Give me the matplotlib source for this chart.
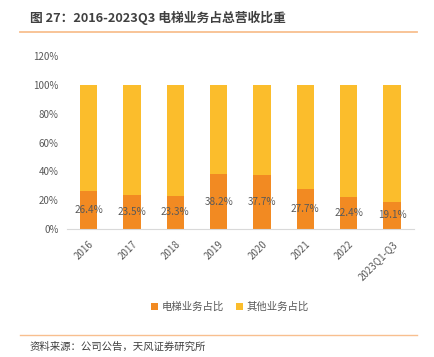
import matplotlib
matplotlib.use("Agg")
import matplotlib.pyplot as plt
from matplotlib.lines import Line2D
import numpy as np

plt.rcParams['font.family'] = ['Noto Sans CJK SC', 'DejaVu Sans']

categories = ["2016", "2017", "2018", "2019", "2020", "2021", "2022", "2023Q1-Q3"]
elevator = [26.4, 23.5, 23.3, 38.2, 37.7, 27.7, 22.4, 19.1]
other = [100 - v for v in elevator]
yticks = [0, 20, 40, 60, 80, 100, 120]

c_elev = "#F28A22"
c_other = "#FBBD2C"
txt = "#595959"

fig = plt.figure(figsize=(4.35, 3.57), dpi=100)
ax = fig.add_axes([67/435, 1 - 229.3/357, (413.7 - 67)/435, (229.3 - 55.8)/357])

x = np.arange(len(categories))
ax.bar(x, elevator, width=0.4, color=c_elev, label="电梯业务占比")
ax.bar(x, other, width=0.4, bottom=elevator, color=c_other, label="其他业务占比")

for xi, v in zip(x, elevator):
    ax.text(xi, v / 2, f"{v:.1f}%", ha="center", va="center", fontsize=7.2, color=txt)

ax.set_xlim(-0.5, len(categories) - 0.5)
ax.set_ylim(0, 120)
ax.set_yticks(yticks)
ax.set_yticklabels([f"{t}%" for t in yticks], fontsize=7, color=txt)
ax.set_xticks(x)
ax.set_xticklabels(categories, rotation=45, ha="right", rotation_mode="anchor", fontsize=7, color=txt)
ax.tick_params(axis="both", length=0, pad=6)
ax.tick_params(axis="x", pad=7)
for s in ["top", "right", "left"]:
    ax.spines[s].set_visible(False)
ax.spines["bottom"].set_color("#D9D9D9")

leg = ax.legend(loc="upper center", bbox_to_anchor=(0.47, -0.365), ncol=2, frameon=False,
                fontsize=7.5, handlelength=0.7, handleheight=0.7, handletextpad=0.3, columnspacing=1.2)
for t in leg.get_texts():
    t.set_color(txt)

fig.text(30/435, 1 - 17.5/357, "图 27：2016-2023Q3 电梯业务占总营收比重", fontsize=9.2, fontweight="bold",
         color="#404040", va="center", ha="left")
fig.add_artist(Line2D([20/435, 417/435], [1 - 31.5/357, 1 - 31.5/357], color="#F8BF8F", lw=1.3))
fig.add_artist(Line2D([20/435, 417/435], [1 - 334.5/357, 1 - 334.5/357], color="#F8BF8F", lw=1.0))
fig.text(30/435, 1 - 346.5/357, "资料来源：公司公告，天风证券研究所", fontsize=7.5, color="#404040", va="center", ha="left")

fig.savefig("out.png", dpi=100)
